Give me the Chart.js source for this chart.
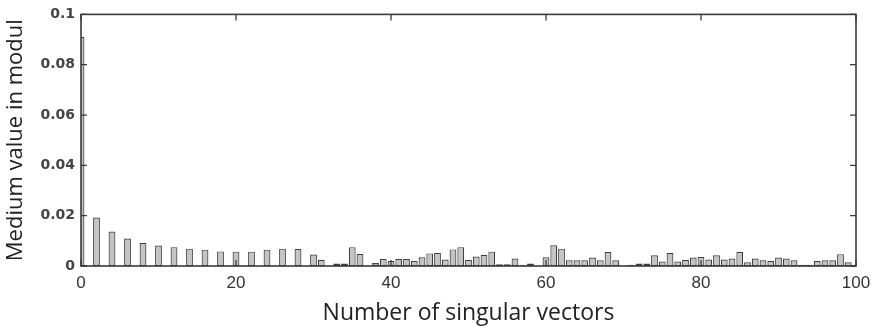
<!DOCTYPE html>
<html>
<head>
<meta charset="utf-8">
<script src="https://cdn.jsdelivr.net/npm/chart.js@4/dist/chart.umd.min.js"></script>
<style>
html,body{margin:0;padding:0;background:#fff;}
#wrap{width:879px;height:331px;position:relative;}
</style>
</head>
<body>
<div id="wrap"><canvas id="c"></canvas></div>
<script>
// singular vector index (x) and medium value in modul (y)
const vectorIndex = Array.from({length: 101}, (_, i) => i);
const mediumValue = [
  0.091, 0, 0.0193, 0, 0.0137, 0, 0.0109, 0, 0.0091, 0,
  0.0081, 0, 0.0075, 0, 0.0069, 0, 0.0065, 0, 0.0058, 0,
  0.0057, 0, 0.0057, 0, 0.0065, 0, 0.0069, 0, 0.0068, 0,
  0.0046, 0.0025, 0, 0.001, 0.001, 0.0075, 0.0048, 0, 0.0012, 0.0028,
  0.002, 0.0028, 0.0028, 0.002, 0.0035, 0.005, 0.0052, 0.0026, 0.0066, 0.0075,
  0.0024, 0.0038, 0.0045, 0.0057, 0.0007, 0.0007, 0.003, 0.0003, 0.001, 0,
  0.0035, 0.0082, 0.0069, 0.0023, 0.0023, 0.0023, 0.0034, 0.0023, 0.0056, 0.0023,
  0, 0.0005, 0.001, 0.001, 0.0043, 0.0018, 0.0052, 0.0018, 0.0025, 0.0034,
  0.0036, 0.0026, 0.0043, 0.0026, 0.003, 0.0056, 0.0015, 0.003, 0.0023, 0.002,
  0.0034, 0.003, 0.0023, 0.0005, 0.0005, 0.002, 0.0023, 0.0023, 0.0047, 0.0015,
  0
];
const xTickValues = [0, 20, 40, 60, 80, 100];
const xTickLabels = ['0', '20', '40', '60', '80', '100'];
const yTickValues = [0, 0.02, 0.04, 0.06, 0.08, 0.1];
const yTickLabels = ['0', '0.02', '0.04', '0.06', '0.08', '0.1'];
const xTitle = 'Number of singular vectors';
const yTitle = 'Medium value in modul';

const points = vectorIndex.map((x, i) => ({x: x, y: mediumValue[i]}));

const boxPlugin = {
  id: 'matlabBox',
  afterDatasetsDraw(chart) {
    const {ctx, chartArea: a, scales} = chart;
    ctx.save();
    ctx.strokeStyle = '#3a3a3a';
    ctx.lineWidth = 1.6;
    ctx.strokeRect(a.left, a.top, a.right - a.left, a.bottom - a.top);
    ctx.lineWidth = 1.3;
    const tl = 6;
    ctx.beginPath();
    yTickValues.forEach(v => {
      const y = scales.y.getPixelForValue(v);
      ctx.moveTo(a.left, y); ctx.lineTo(a.left + tl, y);
      ctx.moveTo(a.right, y); ctx.lineTo(a.right - tl, y);
    });
    xTickValues.forEach(v => {
      const x = scales.x.getPixelForValue(v);
      ctx.moveTo(x, a.top); ctx.lineTo(x, a.top + tl);
      ctx.moveTo(x, a.bottom); ctx.lineTo(x, a.bottom - tl);
    });
    ctx.stroke();
    ctx.restore();
  }
};

new Chart(document.getElementById('c'), {
  type: 'bar',
  data: {
    datasets: [{
      data: points,
      backgroundColor: '#c4c4c4',
      borderColor: '#404040',
      borderWidth: 1.2,
      borderSkipped: false,
      barPercentage: 0.88,
      categoryPercentage: 1.0
    }]
  },
  options: {
    responsive: true,
    maintainAspectRatio: false,
    animation: false,
    events: [],
    layout: {padding: {top: 10, right: 23, left: 0, bottom: 0}},
    plugins: {legend: {display: false}, tooltip: {enabled: false}},
    scales: {
      x: {
        type: 'linear',
        min: 0, max: 100,
        offset: false,
        grid: {display: false, drawTicks: false},
        border: {display: false},
        afterBuildTicks(scale) { scale.ticks = xTickValues.map(v => ({value: v})); },
        afterFit(scale) { scale.height = 65; },
        ticks: {
          padding: 7,
          color: '#333',
          font: {family: 'Liberation Sans', size: 17},
          callback: (v) => xTickLabels[xTickValues.indexOf(v)]
        },
        title: {
          display: true, text: xTitle, color: '#222',
          font: {family: 'Open Sans', size: 23},
          padding: {top: 0, bottom: 4}
        }
      },
      y: {
        min: 0, max: 0.1,
        grid: {display: false, drawTicks: false},
        border: {display: false},
        afterBuildTicks(scale) { scale.ticks = yTickValues.map(v => ({value: v})); },
        afterFit(scale) { scale.width = 81; },
        ticks: {
          padding: 6,
          color: '#444',
          font: {family: 'DejaVu Sans', size: 14, weight: 'bold'},
          callback: (v) => yTickLabels[yTickValues.findIndex(t => Math.abs(t - v) < 1e-9)]
        },
        title: {
          display: true, text: yTitle, color: '#222',
          font: {family: 'Open Sans', size: 22},
          padding: {top: 3, bottom: 0}
        }
      }
    }
  },
  plugins: [boxPlugin]
});
</script>
</body>
</html>
